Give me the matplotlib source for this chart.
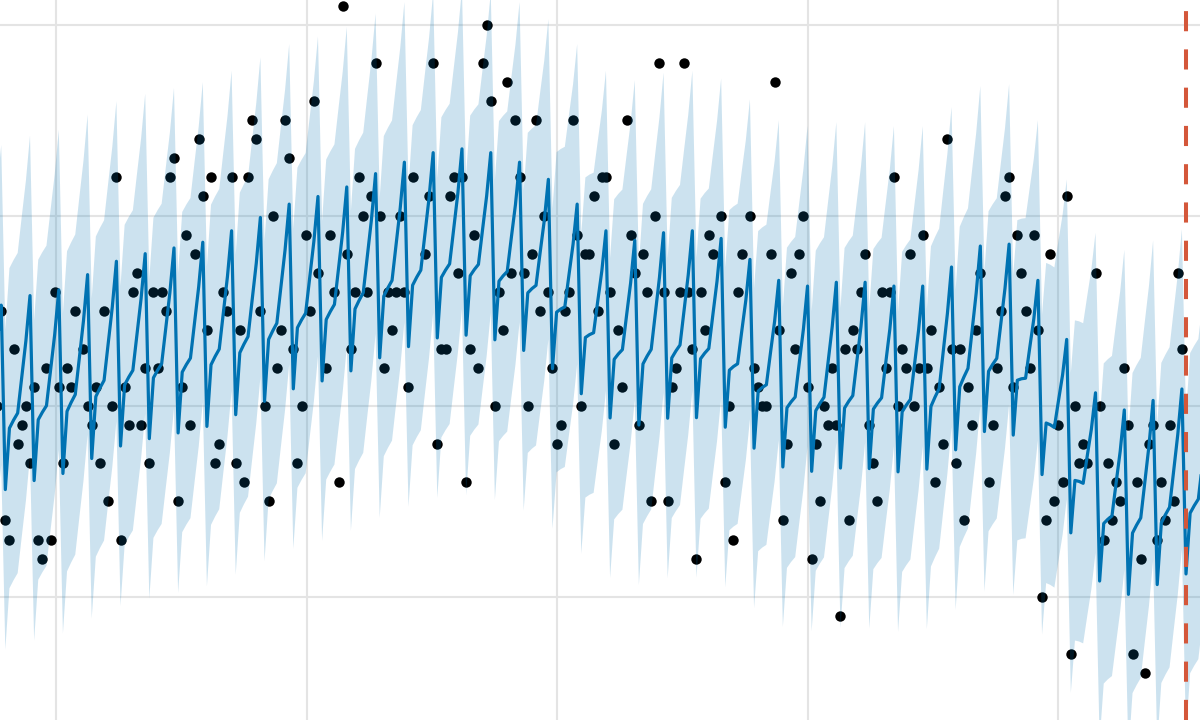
import numpy as np
import pandas as pd
import matplotlib
matplotlib.use("Agg")
import matplotlib.pyplot as plt

# day 0 of the history shown in the crop
start = pd.Timestamp("2018-02-15")

# daily observations from day 0 (nan = day with no visible point)
nan = np.nan
y_obs = [
    20, 25, 14, 13, 23, 18, 19, 20, 17, 21,
    13, 12, 22, 13, 26, 21, 17, 22, 21, 25,
    nan, 23, 20, 19, 21, 17, 25, 15, 20, 32,
    13, 21, 19, 26, 27, 19, 22, 17, 26, 22,
    26, 25, 32, 33, 15, 21, 29, 19, 28, 34,
    31, 24, 32, 17, 18, 26, 25, 32, 17, 24,
    16, 32, 35, 34, 25, 20, 15, 30, 22, 24,
    35, 33, 23, 17, 20, 29, 25, 36, 27, nan,
    22, 29, 26, 16, 41, 28, 23, 26, 32, 30,
    26, 31, 38, 30, 22, 26, 24, 26, 30, 26,
    21, 32, nan, nan, 28, 31, 38, 18, 23, 23,
    31, 32, 27, 32, 16, 23, 29, 22, 38, 40,
    36, 20, 26, 24, 37, 27, 35, 32, 27, 20,
    28, 35, 25, 30, 26, 22, 18, 19, 25, 26,
    35, 29, 20, 28, 28, 31, 25, 32, 32, 26,
    18, 24, 21, 35, 29, 27, 19, 28, 26, 15,
    30, 38, 26, 15, 21, 22, 26, 38, 26, 23,
    12, 26, 24, 29, 28, nan, 30, 16, 20, 13,
    26, 28, nan, 30, 22, 21, 20, 20, 28, 37,
    24, 14, 18, 27, 23, 28, 30, 21, 12, 18,
    15, 20, 19, 22, 19, 9, 23, 14, 24, 23,
    26, 28, 19, 17, 15, 26, 22, 26, 32, 20,
    23, 22, 28, 20, 22, 29, 22, 24, 16, 21,
    18, 34, 23, 17, 23, 14, 21, 19, 24, 27,
    nan, 16, 19, 22, 25, 31, 32, 21, 29, 27,
    25, 22, 29, 24, 10, 14, 28, 15, 19, 16,
    31, 7, 20, 17, 18, 17, nan, 27, 20, 13,
    17, 14, 16, 15, 22, 19, 7, 16, 12, 6,
    18, 19, 13, 16, 14, 19, 15, 27, 23,
]

# trend of the fit read at each weekly peak day (days 1, 8, 15, ..., 295)
trend_day = list(range(1, 296, 7))
trend_val = [
    20.3, 20.8, 21.1, 21.9, 22.6, 23.0, 23.3, 23.6, 24.2, 24.9,
    25.6, 26.0, 26.5, 27.2, 27.8, 28.3, 28.5, 28.3, 27.8, 26.9,
    25.6, 24.2, 23.7, 24.1, 24.2, 23.8, 22.7, 21.6, 21.3, 21.5,
    21.5, 21.3, 21.3, 22.3, 23.4, 23.5, 21.6, 18.5, 15.7, 14.8,
    15.3, 15.9, 16.2,
]

# weekly effect, from the low day to the peak day
week_effect = [-4.75, -1.6, -1.25, -0.95, 0.9, 2.7, 5.0]

# half width of the uncertainty band
band = 8.4

# first forecast day (red dashed line)
cutoff = 289

days = np.arange(0, 294)
trend = np.interp(days, trend_day, trend_val)
yhat = trend + np.array(week_effect)[(days - 2) % 7]
ds = start + pd.to_timedelta(days, unit="D")
obs_ds = start + pd.to_timedelta(np.arange(len(y_obs)), unit="D")

fig = plt.figure(figsize=(12, 7.2), dpi=100)
ax = fig.add_axes([0, 0, 1, 1])

ax.plot(obs_ds, y_obs, "o", color="black", markersize=7.5, markeredgewidth=0, zorder=2)
ax.plot(ds, yhat, "-", color="#0072B2", linewidth=2.3, zorder=3)
ax.fill_between(ds, yhat - band, yhat + band, color="#0072B2", alpha=0.2, linewidth=0, zorder=4)
ax.axvline(start + pd.Timedelta(days=cutoff), color="#d4573a", linestyle=(0, (5, 4.5)),
           linewidth=2.9, zorder=5)

# grid lines (no labels in the crop)
grid_days = [14.3, 75.3, 136.2, 197.1, 258.0]
ax.set_xticks([start + pd.Timedelta(days=g) for g in grid_days])
ax.set_yticks([10, 20, 30, 40])
ax.grid(True, color="#e4e4e4", linewidth=1.5)
ax.set_axisbelow(True)
ax.tick_params(length=0, labelbottom=False, labelleft=False)
for s in ax.spines.values():
    s.set_visible(False)

ax.set_xlim(start + pd.Timedelta(days=0.705), start + pd.Timedelta(days=292.4))
ax.set_ylim(3.53, 41.31)

fig.savefig("out.png", dpi=100)
